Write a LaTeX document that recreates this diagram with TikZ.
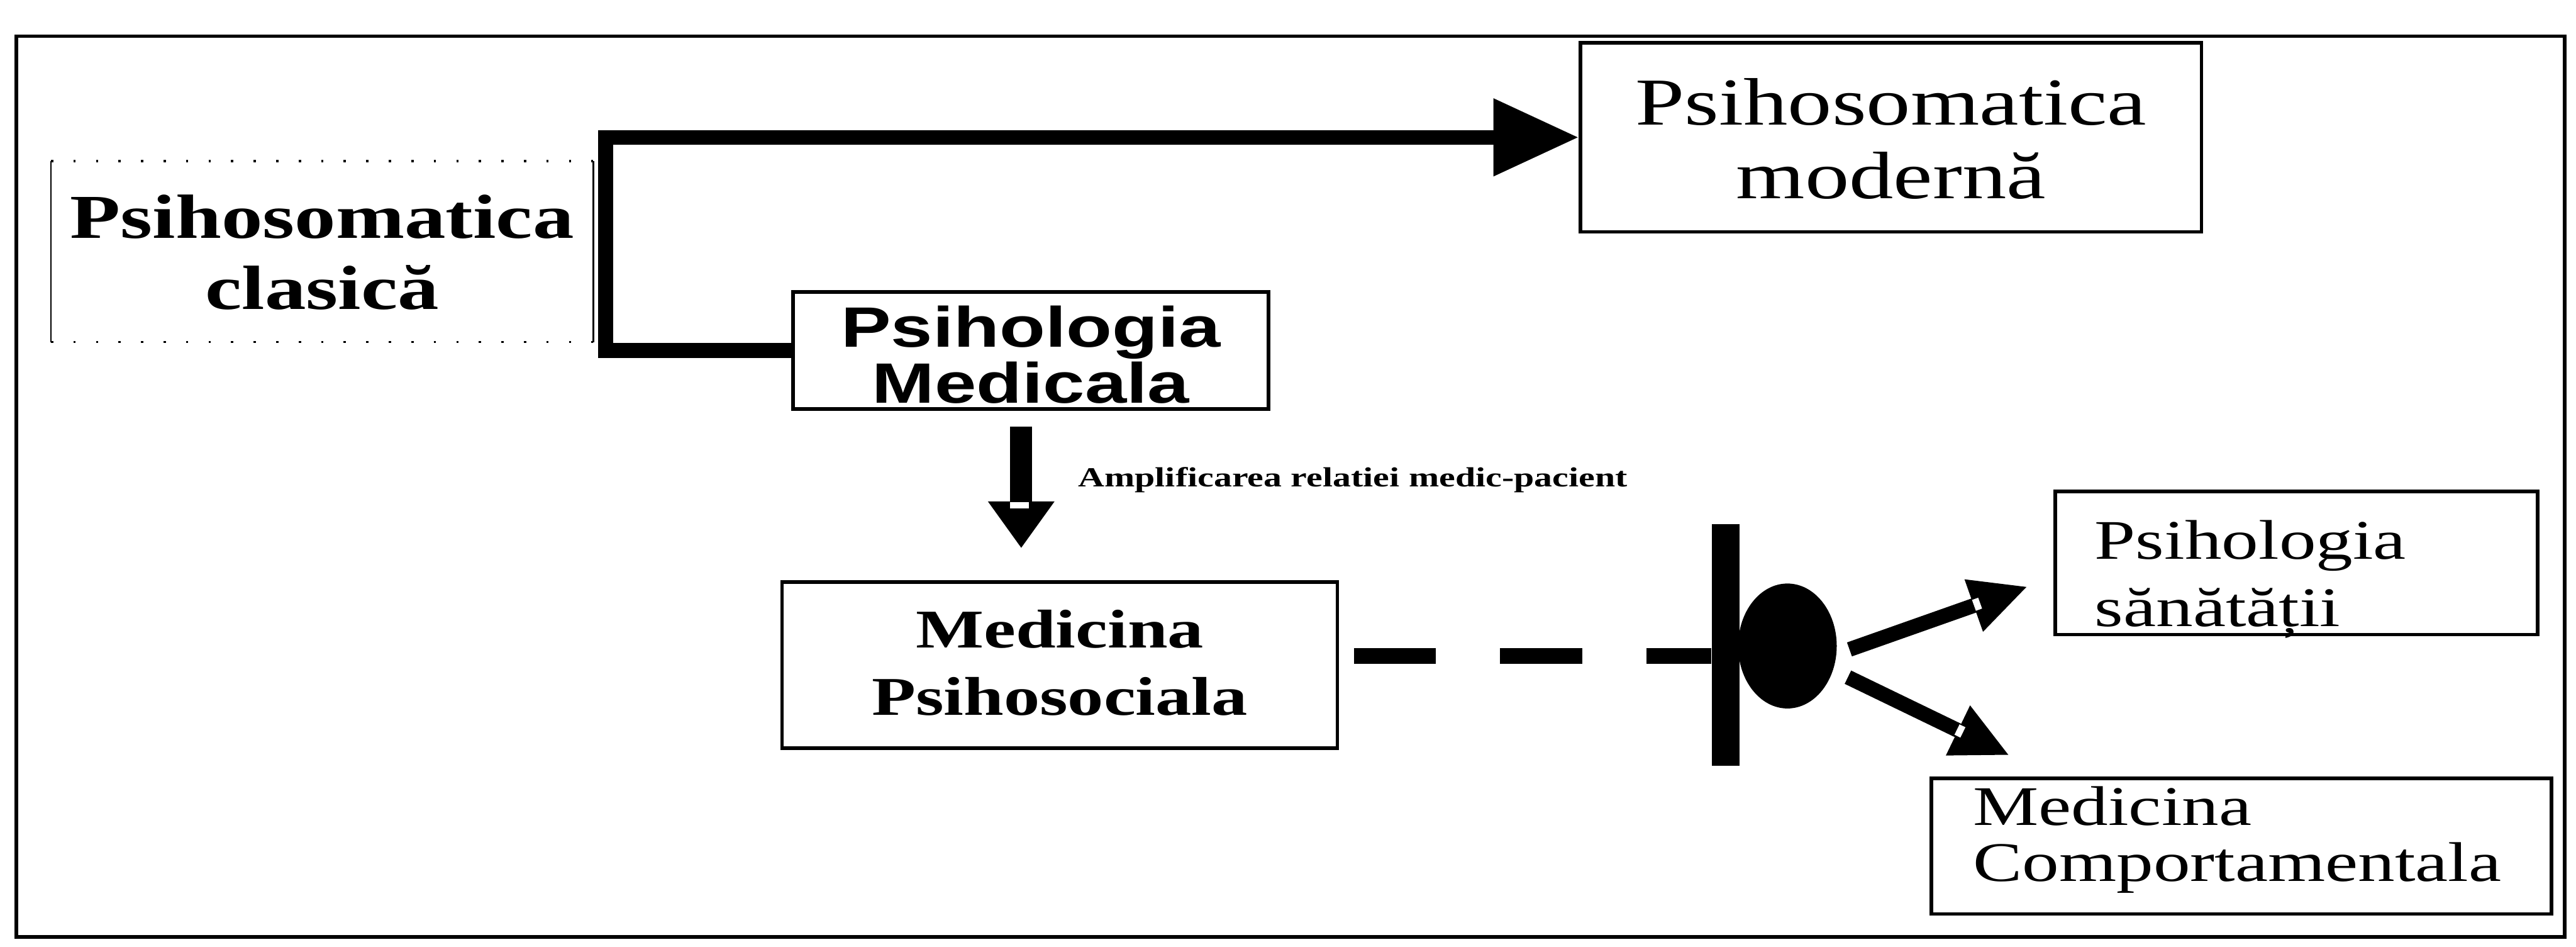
\documentclass[tikz,border=0pt]{standalone}
\usepackage{fontspec}
\usepackage{tikz}
\usetikzlibrary{arrows.meta, shapes.geometric}
\newfontfamily\serifw[FakeStretch=1.32]{Liberation Serif}
\newfontfamily\sansw[FakeStretch=1.32]{Liberation Sans}
\tikzset{
    basebox/.style={draw, line width=1.2pt, inner xsep=0pt, inner ysep=0pt, anchor=north west},
    centerbox/.style={basebox, align=center},
    leftbox/.style={basebox, align=left},
    sideline/.style={line width=0.6pt},
    dotrule/.style={line width=0.8pt, dash pattern=on 0.8pt off 7pt},
    mainarr/.style={line width=1.8mm, -{Triangle[length=10.4mm, width=9mm]}},
    downarr/.style={line width=2.7mm, -{Triangle[length=5.7mm, width=7.72mm]},
        shorten <=1.98mm, shorten >=3.9mm},
    dashline/.style={line width=1.9mm, dash pattern=on 10mm off 7.8mm, shorten <=1.8mm},
    hubarr/.style={line width=1.8mm, -{Triangle[length=7mm, width=6.2mm]}, shorten <=4.4mm},
    stopbar/.style={fill, inner sep=0pt, minimum width=3.4mm, minimum height=29.4mm},
    hub/.style={ellipse, fill, inner sep=0pt, minimum width=12mm, minimum height=15.2mm},
    notch/.style={fill=white},
    outerframe/.style={line width=1.2pt}
}

\begin{document}
\begin{tikzpicture}[x=0.2mm, y=-0.2mm]
\useasboundingbox (0,0) rectangle (1568,576);

% Frame
\draw[outerframe] (10,22) rectangle (1561,570);

% Boxes
\node[centerbox, draw=none, text width=65.6mm, text height=9.2mm, text depth=12.4mm,
    font=\serifw\bfseries\fontsize{7.6mm}{8.6mm}\selectfont]
    (clasica) at (31,98) {Psihosomatica\\clasică};
\node[centerbox, text width=75.6mm, text height=10mm, text depth=13mm,
    font=\serifw\fontsize{8.16mm}{8.94mm}\selectfont]
    (modern) at (961,25) {Psihosomatica\\modernă};
\node[centerbox, text width=57.9mm, text height=6.68mm, text depth=7.54mm,
    font=\sansw\bfseries\fontsize{6.92mm}{6mm}\selectfont]
    (PM) at (481.6,176.6) {Psihologia\\Medicala};
\node[centerbox, text width=67.6mm, text height=8mm, text depth=12.2mm,
    font=\serifw\bfseries\fontsize{6.64mm}{8.2mm}\selectfont]
    (MP) at (475,353) {Medicina\\Psihosociala};
\node[leftbox, inner xsep=4.8mm, text width=49.1mm, text height=8.2mm, text depth=9.2mm,
    font=\serifw\fontsize{6.8mm}{8.2mm}\selectfont]
    (PS) at (1250,298) {Psihologia\\sănătății};
\node[leftbox, inner xsep=5.1mm, text width=65.3mm, text height=5.7mm, text depth=10.8mm,
    font=\serifw\fontsize{6.8mm}{6.8mm}\selectfont]
    (MC) at (1174.5,472.5) {Medicina\\Comportamentala};

% dotted outline of the first box
\draw[sideline] (clasica.north west) -- (clasica.south west);
\draw[sideline] (clasica.north east) -- (clasica.south east);
\draw[dotrule] (clasica.north west) -- (clasica.north east);
\draw[dotrule] (clasica.south west) -- (clasica.south east);

% Bar and hub
\node[stopbar] (bar) at (1050.5,392.5) {};
\node[hub] (hub) at (1088,393) {};
\coordinate (fork) at ([xshift=3.4mm, yshift=-1.88mm]hub.center);

% Label
\node[anchor=base west, inner sep=0pt, font=\serifw\bfseries\fontsize{3.36mm}{4mm}\selectfont]
    (amplif) at (656,296) {Amplificarea relatiei medic-pacient};

% Connectors
\draw[mainarr] (PM.west) -- ++(-113,0) |- (modern.west);
\draw[downarr] ([xshift=-1.16mm]PM.south) -- ([xshift=-1.16mm]PM.south |- MP.north);
\draw[dashline] ([yshift=1.1mm]MP.east) -- ([yshift=1.1mm]MP.east -| bar.west);
\draw[hubarr] (fork) -- ([xshift=-3.12mm, yshift=-2.84mm]PS.west);
\draw[hubarr] (fork) -- ([xshift=9.76mm, yshift=2.58mm]MC.north west);

% notches at the arrow heads
\fill[notch] (614.7,305.3) rectangle (626.3,309.4);
\fill[notch, rotate around={19.8:(1203.4,367.6)}] (1201.4,364.1) rectangle (1205.4,371.1);
\fill[notch, rotate around={-26:(1193,444.7)}] (1191,441.2) rectangle (1195,448.2);

\end{tikzpicture}
\end{document}
